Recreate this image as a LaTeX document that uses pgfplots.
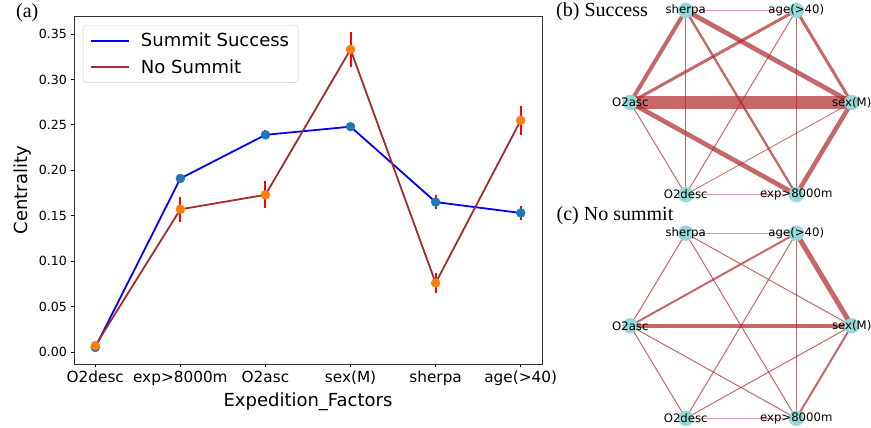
\documentclass[border=0pt]{standalone}
\usepackage{pgfplots}
\usepackage{pgfplotstable}
\pgfplotsset{compat=1.18}
\usepackage{fontspec}
\setmainfont{DejaVu Sans}
\newfontfamily\timesfont{Liberation Serif}

\definecolor{mplblue}{HTML}{1F77B4}
\definecolor{mplorange}{HTML}{FF7F0E}
\definecolor{brownline}{RGB}{165,42,42}
\definecolor{edgecol}{RGB}{175,40,40}
\definecolor{nodecol}{RGB}{148,216,216}

% centrality per factor: value and error
\pgfplotstableread{
x y e
0 0.005 0.002
1 0.191 0.005
2 0.239 0.005
3 0.248 0.003
4 0.165 0.008
5 0.153 0.008
}\success
\pgfplotstableread{
x y e
0 0.007 0.003
1 0.157 0.014
2 0.173 0.015
3 0.333 0.019
4 0.076 0.011
5 0.255 0.016
}\nosummit

% one network edge: width, end, end
\newcommand{\edge}[3]{\addplot[edgecol, opacity=0.7, line width=#1pt] coordinates {(#2) (#3)};}
\newcommand{\faint}[3]{\addplot[edgecol, opacity=0.45, line width=#1pt] coordinates {(#2) (#3)};}

\begin{document}
\begin{tikzpicture}
\useasboundingbox (0,0) rectangle (871pt,428pt);

\begin{axis}[
    at={(74pt,64pt)}, anchor=south west,
    scale only axis, width=468pt, height=348pt,
    xmin=-0.25, xmax=5.25, ymin=-0.0132, ymax=0.3698,
    xtick={0,1,2,3,4,5},
    xticklabels={O2desc,exp>8000m,O2asc,sex(M),sherpa,age(>40)},
    ytick={0,0.05,0.1,0.15,0.2,0.25,0.3,0.35},
    yticklabel style={font=\fontsize{12.6}{14}\selectfont,
        /pgf/number format/.cd, fixed, fixed zerofill, precision=2, assume math mode=true},
    xticklabel style={font=\fontsize{15.3}{17}\selectfont},
    tick align=outside, xtick pos=left, ytick pos=left,
    major tick length=3.5pt,
    tick style={black, line width=0.8pt},
    axis line style={black!80, line width=0.8pt},
    xlabel={Expedition\_Factors}, ylabel={Centrality},
    label style={font=\fontsize{18}{20}\selectfont},
    xlabel style={at={(axis description cs:0.5,-0.108)}, anchor=center},
    ylabel style={at={(axis description cs:-0.111,0.5)}, anchor=center},
    legend style={at={(axis description cs:0.0192,0.974)}, anchor=north west,
        font=\fontsize{18}{20}\selectfont, draw=black!20, rounded corners=3pt,
        fill=white, inner xsep=7pt, inner ysep=6pt, row sep=7pt,
        /tikz/every odd column/.append style={column sep=9pt}},
    legend cell align=left,
    legend image code/.code={\draw[#1] (0pt,0pt) -- (38pt,0pt);},
]
\addplot[blue, line width=1.8pt] table[x=x, y=y] {\success};
\addlegendentry{Summit Success}
\addplot[brownline, line width=1.8pt] table[x=x, y=y] {\nosummit};
\addlegendentry{No Summit}

\addplot[red, line width=2pt, only marks, mark=none, forget plot,
    error bars/.cd, y dir=both, y explicit, error mark=none,
    error bar style={red, line width=2pt}]
    table[x=x, y=y, y error=e] {\success};
\addplot[only marks, mark=*, mark size=4.5pt, mplblue, forget plot] table[x=x, y=y] {\success};
\addplot[red, line width=2pt, only marks, mark=none, forget plot,
    error bars/.cd, y dir=both, y explicit, error mark=none,
    error bar style={red, line width=2pt}]
    table[x=x, y=y, y error=e] {\nosummit};
\addplot[only marks, mark=*, mark size=4.5pt, mplorange, forget plot] table[x=x, y=y] {\nosummit};
\end{axis}

% networks, in picture pixel coordinates
\begin{axis}[
    at={(0pt,0pt)}, anchor=south west,
    scale only axis, width=871pt, height=428pt,
    xmin=0, xmax=871, ymin=0, ymax=428, y dir=reverse,
    hide axis, clip=false,
]
% (b) Success
\edge{12.7}{630.3,102.5}{851.7,102.5}
\edge{4.7}{685.7,10.4}{851.7,102.5}
\edge{4.7}{630.3,102.5}{796.3,194.6}
\edge{4.5}{851.7,102.5}{796.3,194.6}
\edge{4.0}{685.7,10.4}{630.3,102.5}
\edge{3.0}{630.3,102.5}{796.3,10.4}
\edge{3.0}{796.3,10.4}{851.7,102.5}
\edge{2.3}{685.7,10.4}{796.3,194.6}
\edge{1.5}{796.3,10.4}{796.3,194.6}
\edge{1.3}{685.7,10.4}{685.7,194.6}
\edge{1.0}{796.3,10.4}{685.7,194.6}
\edge{1.0}{630.3,102.5}{685.7,194.6}
\edge{0.8}{685.7,194.6}{851.7,102.5}
\faint{1.3}{685.7,194.6}{796.3,194.6}
\faint{1.3}{685.7,10.4}{796.3,10.4}
% (c) No summit
\edge{5.0}{796.3,233.3}{851.7,325.8}
\edge{3.5}{630.3,325.8}{851.7,325.8}
\edge{2.0}{851.7,325.8}{796.3,418.3}
\edge{2.0}{630.3,325.8}{796.3,233.3}
\faint{1.3}{685.7,233.3}{796.3,233.3}
\edge{1.0}{685.7,233.3}{630.3,325.8}
\edge{1.0}{685.7,233.3}{851.7,325.8}
\edge{1.0}{685.7,233.3}{796.3,418.3}
\edge{1.0}{796.3,233.3}{685.7,418.3}
\edge{1.0}{796.3,233.3}{796.3,418.3}
\edge{1.0}{630.3,325.8}{685.7,418.3}
\edge{1.0}{630.3,325.8}{796.3,418.3}
\faint{1.3}{685.7,418.3}{796.3,418.3}
\edge{1.0}{685.7,418.3}{851.7,325.8}

\addplot[only marks, mark=*, mark size=7.5pt, nodecol,
    point meta=explicit symbolic, nodes near coords,
    nodes near coords style={anchor=center, black, font=\fontsize{11.7}{13}\selectfont}]
    coordinates {
    (851.7,102.5) [sex(M)] (796.3,10.4) [age(>40)] (685.7,10.4) [sherpa]
    (630.3,102.5) [O2asc] (685.7,194.6) [O2desc] (796.3,194.6) [exp>8000m]
    (851.7,325.8) [sex(M)] (796.3,233.3) [age(>40)] (685.7,233.3) [sherpa]
    (630.3,325.8) [O2asc] (685.7,418.3) [O2desc] (796.3,418.3) [exp>8000m]
    };

\node[anchor=west, inner sep=0pt, font=\timesfont\fontsize{20}{22}\selectfont] at (axis cs:16,13) {(a)};
\node[anchor=west, inner sep=0pt, font=\timesfont\fontsize{20}{22}\selectfont] at (axis cs:556,12) {(b) Success};
\node[anchor=west, inner sep=0pt, font=\timesfont\fontsize{20}{22}\selectfont] at (axis cs:556.5,216) {(c) No summit};
\end{axis}
\end{tikzpicture}
\end{document}
